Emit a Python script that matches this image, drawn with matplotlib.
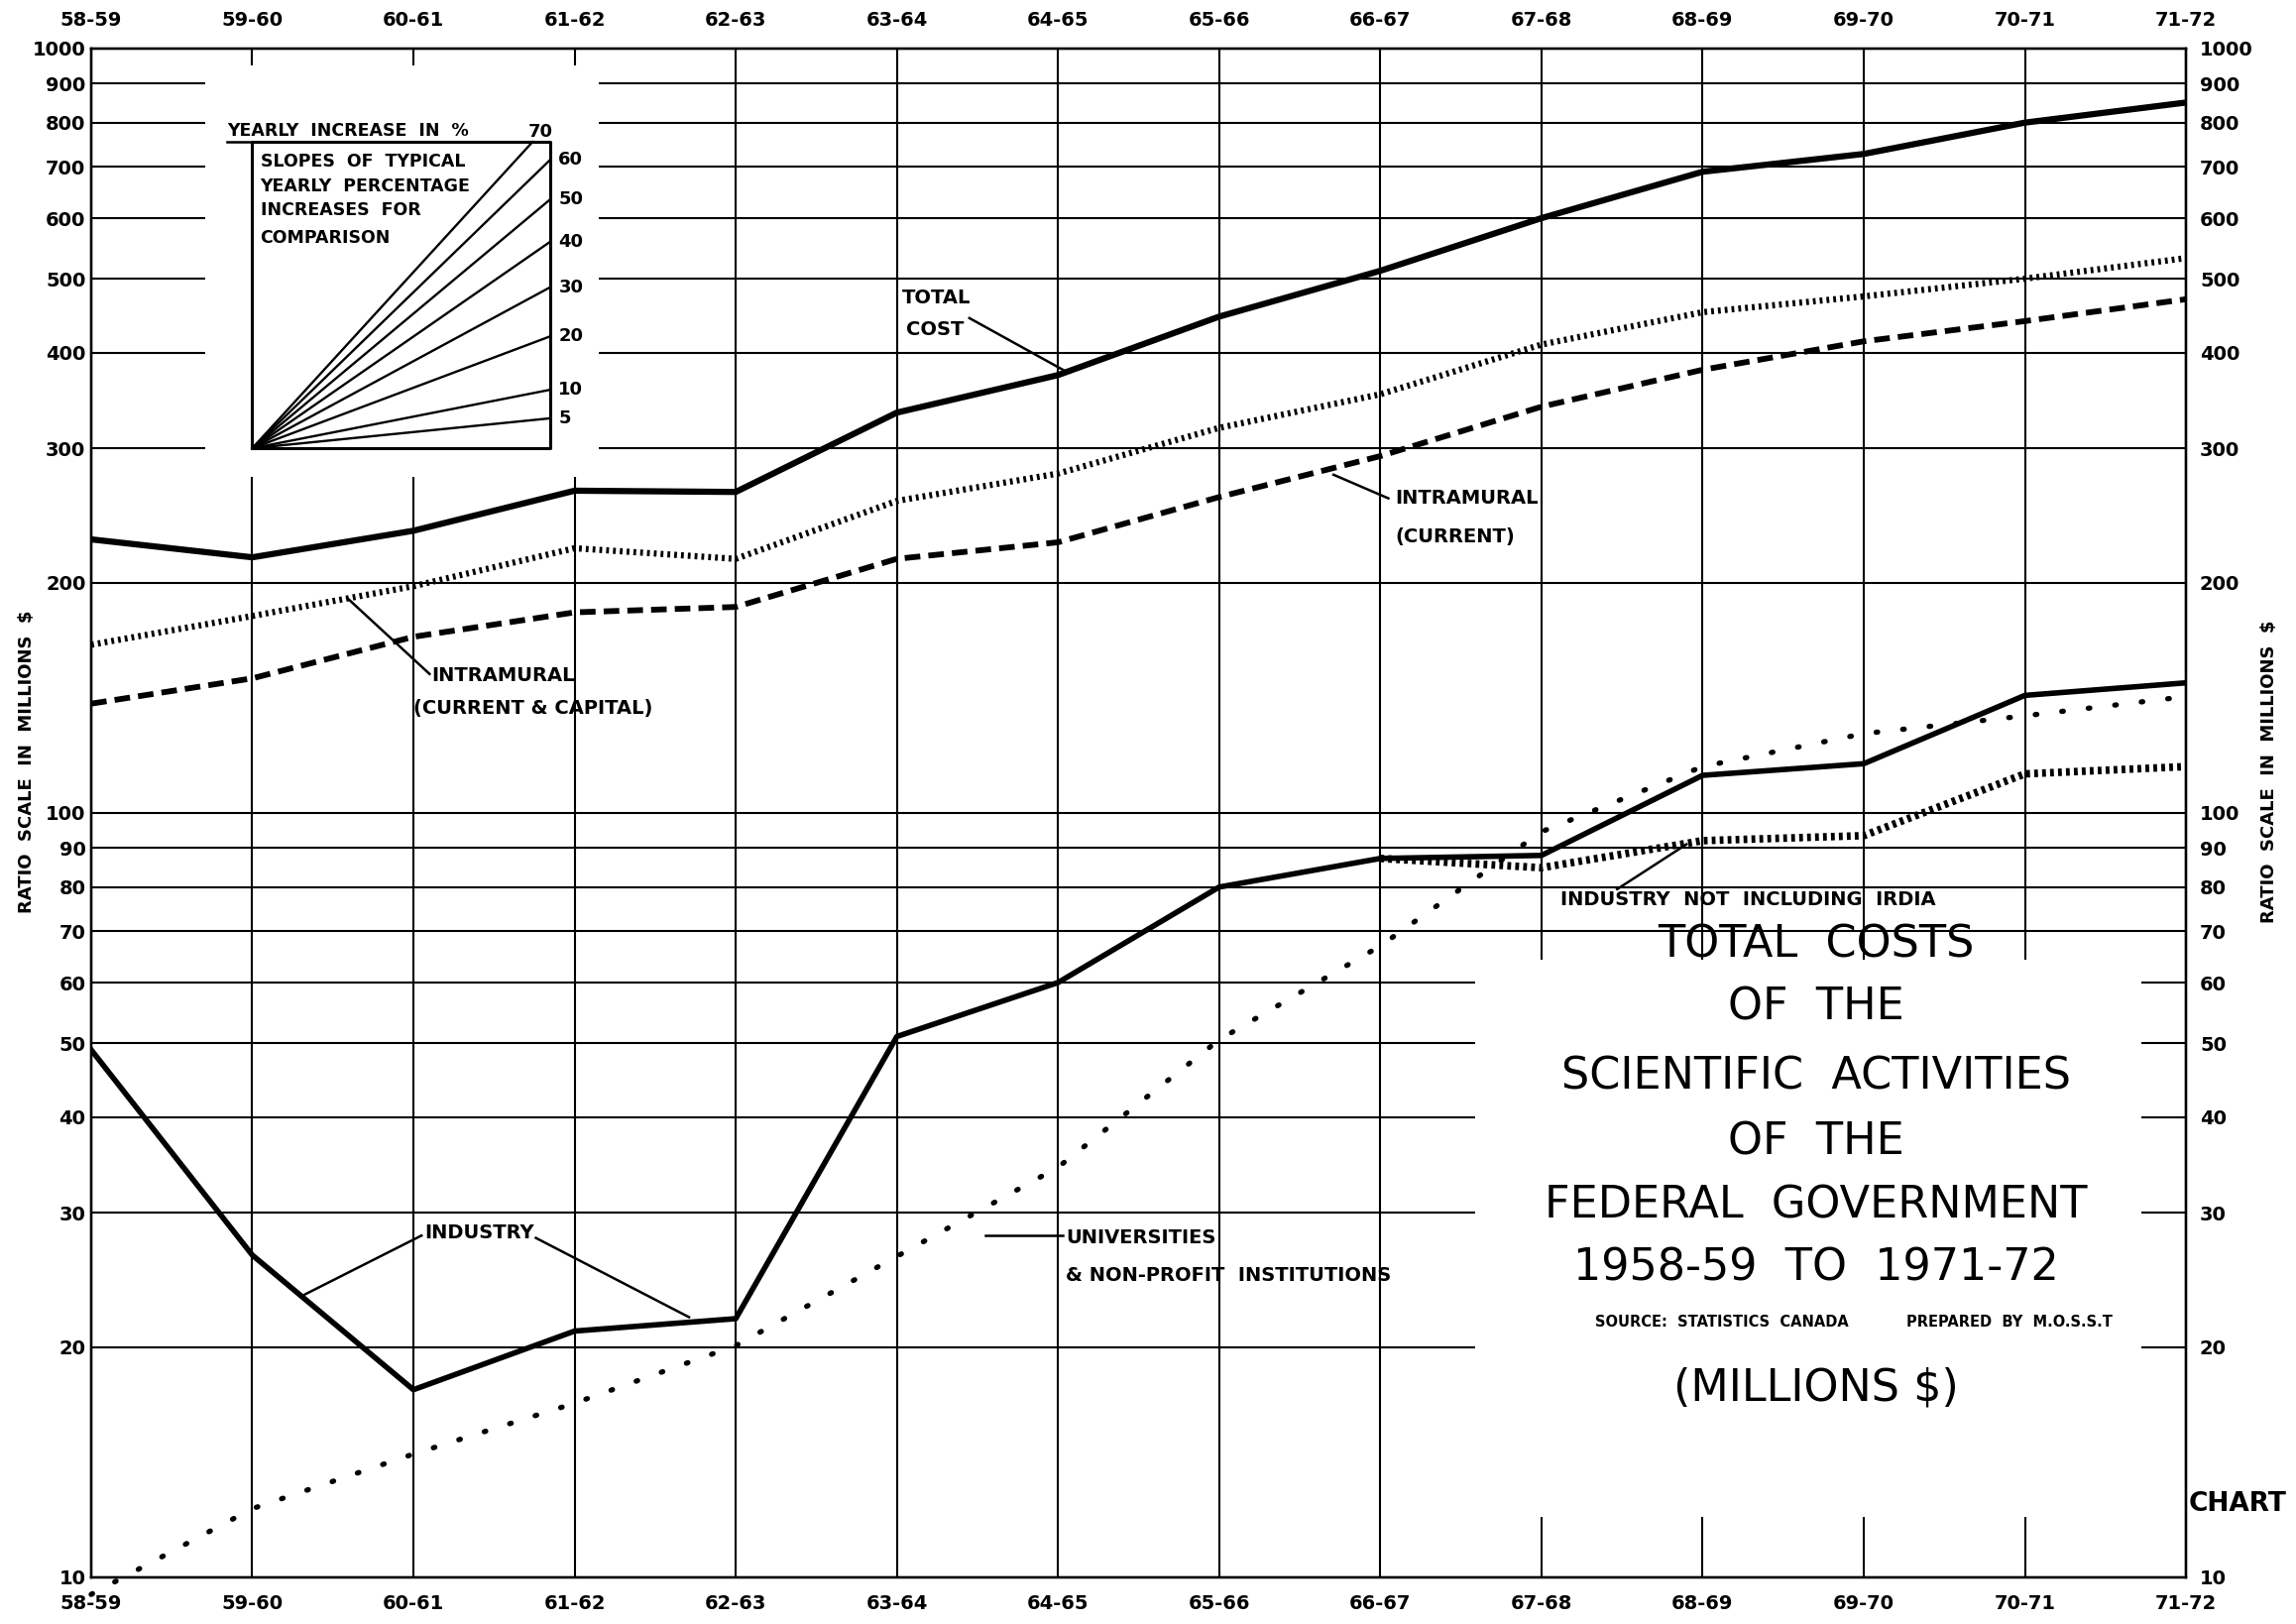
import matplotlib
matplotlib.use('Agg')
import matplotlib.pyplot as plt
from matplotlib.patches import Rectangle
from matplotlib.ticker import NullLocator, NullFormatter
import numpy as np

# values (millions $)
years = ['58-59', '59-60', '60-61', '61-62', '62-63', '63-64', '64-65',
         '65-66', '66-67', '67-68', '68-69', '69-70', '70-71', '71-72']
total_cost = [228, 216, 234, 264, 263, 334, 374, 446, 512, 600, 690, 728, 800, 850]
intramural_cap = [166, 181, 198, 222, 215, 256, 278, 319, 353, 410, 452, 474, 500, 532]
intramural_cur = [139, 150, 170, 183, 186, 215, 226, 259, 293, 340, 380, 414, 440, 470]
industry = [49, 26.4, 17.6, 21.0, 21.8, 51, 60, 80, 87.2, 88, 112, 116, 142.5, 148]
industry_ex_irdia = [87.2, 84.8, 92, 93.4, 112.5, 115]   # from 66-67 on
universities = [9.5, 12.3, 14.5, 16.9, 20.1, 26.3, 34.4, 50.5, 67, 94.5, 115, 127, 134, 142]

y_ticks = [10, 20, 30, 40, 50, 60, 70, 80, 90, 100,
           200, 300, 400, 500, 600, 700, 800, 900, 1000]
slope_pcts = [5, 10, 20, 30, 40, 50, 60, 70]

plt.rcParams['font.family'] = 'DejaVu Sans'

fig = plt.figure(figsize=(23.16, 16.38), dpi=100)
ax = fig.add_axes([0.0397, 0.0287, 0.9124, 0.9414])
ax.set_yscale('log')
x = np.arange(len(years))
ax.set_xlim(0, len(years) - 1)
ax.set_ylim(10, 1000)

# grid
for v in y_ticks:
    ax.axhline(v, color='black', lw=1.5, zorder=1)
for xi in x:
    ax.axvline(xi, color='black', lw=1.5, zorder=1)

# blank areas for the inset and the title block
ax.add_patch(Rectangle((0.71, 275), 2.44, 675, facecolor='white',
                       edgecolor='none', zorder=2))
ax.add_patch(Rectangle((8.59, 12.0), 4.13, 52.3, facecolor='white',
                       edgecolor='none', zorder=2))

# series
ax.plot(x, total_cost, color='black', lw=4.5, solid_joinstyle='round', zorder=3)
ax.plot(x, intramural_cap, color='black', lw=4.5, dashes=(0.45, 0.65), zorder=3)
ax.plot(x, intramural_cur, color='black', lw=4.2, dashes=(2.7, 1.4), zorder=3)
ax.plot(x, industry, color='black', lw=4.0, solid_joinstyle='round', zorder=3)
ax.plot(x[8:], industry_ex_irdia, color='black', lw=5.5, dashes=(0.5, 0.55), zorder=3)
ax.plot(x, universities, color='black', lw=3.8, dashes=(0.3, 4.8),
        dash_capstyle='round', zorder=3, clip_on=False)

lab = dict(fontsize=14, fontweight='bold', va='center', ha='left', zorder=5)


def leader(x0, y0, x1, y1):
    ax.plot([x0, x1], [y0, y1], color='black', lw=1.8, zorder=4)


# labels and leader lines
ax.text(5.03, 472, 'TOTAL', **lab)
ax.text(5.06, 429, 'COST', **lab)
leader(5.45, 444, 6.05, 378)

ax.text(8.09, 258, 'INTRAMURAL', **lab)
ax.text(8.09, 230, '(CURRENT)', **lab)
leader(7.71, 277, 8.05, 258)

ax.text(2.11, 151, 'INTRAMURAL', **lab)
ax.text(2.0, 137, '(CURRENT & CAPITAL)', **lab)
leader(1.59, 191, 2.1, 152)

ax.text(2.07, 28.2, 'INDUSTRY', **lab)
leader(2.05, 28.0, 1.3, 23.3)
leader(2.76, 27.8, 3.71, 21.9)

ax.text(6.05, 27.8, 'UNIVERSITIES', **lab)
ax.text(6.05, 24.8, '& NON-PROFIT  INSTITUTIONS', **lab)
leader(5.55, 28.0, 6.03, 28.0)

ax.text(9.12, 77.0, 'INDUSTRY  NOT  INCLUDING  IRDIA', **lab)
leader(9.47, 79.5, 9.9, 91)

# inset of typical slopes
bx0, bx1, by0, by1 = 1.0, 2.85, 300, 755
ax.plot([bx0, bx1, bx1, bx0, bx0], [by0, by0, by1, by1, by0],
        color='black', lw=2.2, zorder=4)
ax.plot([0.845, bx0], [by1, by1], color='black', lw=1.8, zorder=4)
for p in slope_pcts:
    g = 1 + p / 100
    dx = min(bx1 - bx0, np.log(by1 / by0) / np.log(g))
    ax.plot([bx0, bx0 + dx], [by0, by0 * g ** dx], color='black', lw=1.7, zorder=4)
    if dx < bx1 - bx0:
        ax.text(bx0 + dx - 0.03, by1 * 1.03, str(p), fontsize=13,
                fontweight='bold', va='center', ha='left', zorder=5)
    else:
        ax.text(bx1 + 0.05, by0 * g ** dx, str(p), fontsize=13,
                fontweight='bold', va='center', ha='left', zorder=5)
ax.text(0.845, 780, 'YEARLY  INCREASE  IN  %', fontsize=12.5, fontweight='bold',
        va='center', ha='left', zorder=5)
inset_lines = ['SLOPES  OF  TYPICAL', 'YEARLY  PERCENTAGE',
               'INCREASES  FOR', 'COMPARISON']
for line, yv in zip(inset_lines, [712, 661, 615, 566]):
    ax.text(1.05, yv, line, fontsize=12.5, fontweight='bold',
            va='center', ha='left', zorder=5)

# ticks
ax.set_xticks(x, years)
ax.set_yticks(y_ticks, [str(v) for v in y_ticks])
ax.yaxis.set_minor_locator(NullLocator())
ax.yaxis.set_minor_formatter(NullFormatter())
ax.tick_params(axis='x', length=0, pad=12, labelsize=14)
ax.tick_params(axis='y', length=0, pad=4, labelsize=14)
for t in ax.get_xticklabels() + ax.get_yticklabels():
    t.set_fontweight('bold')

ax_r = ax.twinx()
ax_r.set_yscale('log')
ax_r.set_ylim(10, 1000)
ax_r.set_yticks(y_ticks, [str(v) for v in y_ticks])
ax_r.yaxis.set_minor_locator(NullLocator())
ax_r.yaxis.set_minor_formatter(NullFormatter())
ax_r.tick_params(axis='y', length=0, pad=10, labelsize=14)

ax_t = ax.twiny()
ax_t.set_xlim(ax.get_xlim())
ax_t.set_xticks(x, years)
ax_t.tick_params(axis='x', length=0, pad=14, labelsize=14)
for t in ax_r.get_yticklabels() + ax_t.get_xticklabels():
    t.set_fontweight('bold')

for a in (ax, ax_r, ax_t):
    for s in a.spines.values():
        s.set_linewidth(1.6)

fig.text(0.0115, 0.531, 'RATIO  SCALE  IN  MILLIONS  $', rotation=90,
         fontsize=13, fontweight='bold', ha='center', va='center')
fig.text(0.9885, 0.525, 'RATIO  SCALE  IN  MILLIONS  $', rotation=90,
         fontsize=13, fontweight='bold', ha='center', va='center')

# title block
title_lines = [('TOTAL  COSTS', 0.4184), ('OF  THE', 0.3796),
               ('SCIENTIFIC  ACTIVITIES', 0.3372), ('OF  THE', 0.2967),
               ('FEDERAL  GOVERNMENT', 0.2579), ('1958-59  TO  1971-72', 0.2191),
               ('(MILLIONS $)', 0.1452)]
for txt, yy in title_lines:
    fig.text(0.791, yy, txt, fontsize=32, ha='center', va='center')
fig.text(0.750, 0.1858, 'SOURCE:  STATISTICS  CANADA', fontsize=10.5,
         fontweight='bold', ha='center', va='center')
fig.text(0.875, 0.1858, 'PREPARED  BY  M.O.S.S.T', fontsize=10.5,
         fontweight='bold', ha='center', va='center')
fig.text(0.953, 0.074, 'CHART', fontsize=19, fontweight='bold',
         ha='left', va='center')

fig.savefig('out.png', dpi=100)
